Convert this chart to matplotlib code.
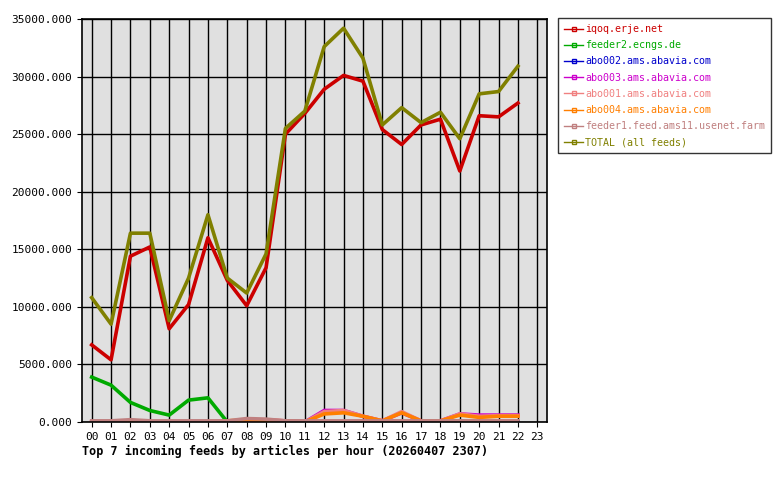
import matplotlib
matplotlib.use("Agg")
import matplotlib.pyplot as plt

hours = list(range(23))
hour_labels = ["%02d" % h for h in range(24)]

iqoq = [6700, 5400, 14400, 15200, 8100, 10200, 16000, 12300, 10100, 13400, 25000, 26800,
        28900, 30100, 29600, 25400, 24100, 25800, 26300, 21800, 26600, 26500, 27700]
feeder2 = [3900, 3200, 1700, 1000, 600, 1900, 2100, 0, 0, 0, 0, 0,
           0, 0, 0, 0, 0, 0, 0, 100, 0, 0, 0]
abo002 = [0] * 23
abo003 = [0, 0, 0, 0, 0, 0, 0, 0, 200, 150, 100, 0,
          1000, 1000, 500, 100, 800, 100, 100, 700, 600, 600, 600]
abo001 = [0, 0, 0, 0, 0, 0, 0, 0, 200, 150, 100, 0,
          900, 1000, 500, 100, 900, 100, 100, 700, 500, 550, 550]
abo004 = [0, 0, 0, 0, 0, 0, 0, 100, 200, 150, 100, 0,
          700, 800, 500, 100, 800, 100, 100, 600, 400, 500, 500]
feeder1 = [100, 100, 200, 100, 100, 100, 100, 100, 300, 250, 100, 100,
           100, 100, 100, 100, 100, 100, 100, 100, 100, 100, 100]
total = [10800, 8500, 16400, 16400, 8800, 12500, 18000, 12500, 11200, 14600, 25500, 27000,
         32600, 34200, 31600, 25800, 27300, 26000, 26900, 24600, 28500, 28700, 30900]

series = [
    ("iqoq.erje.net", iqoq, "#cc0000"),
    ("feeder2.ecngs.de", feeder2, "#00aa00"),
    ("abo002.ams.abavia.com", abo002, "#0000cc"),
    ("abo003.ams.abavia.com", abo003, "#cc00cc"),
    ("abo001.ams.abavia.com", abo001, "#f08080"),
    ("abo004.ams.abavia.com", abo004, "#ff7f00"),
    ("feeder1.feed.ams11.usenet.farm", feeder1, "#c08080"),
    ("TOTAL (all feeds)", total, "#808000"),
]

plt.rcParams["font.family"] = "DejaVu Sans Mono"
fig = plt.figure(figsize=(7.8, 4.8), dpi=100)
ax = fig.add_axes([82 / 780, 58 / 480, 465 / 780, 403 / 480])
ax.set_facecolor("#e0e0e0")
for name, vals, col in series:
    ax.plot(hours, vals, color=col, lw=2.6, label=name)
ax.set_xlim(-0.5, 23.5)
ax.set_ylim(0, 35000)
ax.set_xticks(range(24))
ax.set_xticklabels(hour_labels, fontsize=8)
ax.set_yticks(range(0, 35001, 5000))
ax.set_yticklabels(["%d.000" % v for v in range(0, 35001, 5000)], fontsize=8)
ax.grid(True, color="black", lw=1)
ax.set_axisbelow(True)
for s in ax.spines.values():
    s.set_linewidth(1.2)
ax.set_xlabel("Top 7 incoming feeds by articles per hour (20260407 2307)",
              fontsize=8.5, fontweight="bold", loc="left", labelpad=2)

handles = [plt.Line2D([], [], color=c, lw=1, marker="s", ms=2.5, mfc="none", markevery=[1])
           for _, _, c in series]
leg = fig.legend(handles, [n for n, _, _ in series], loc="upper left",
                 bbox_to_anchor=(558 / 780, 1 - 18 / 480), fontsize=7.2,
                 frameon=True, fancybox=False, edgecolor="black", handlelength=1.9,
                 handletextpad=0.2, borderpad=0.6, borderaxespad=0, labelspacing=0.62)
leg.get_frame().set_linewidth(1)
for t, (_, _, col) in zip(leg.get_texts(), series):
    t.set_color(col)
fig.savefig("out.png", dpi=100)
